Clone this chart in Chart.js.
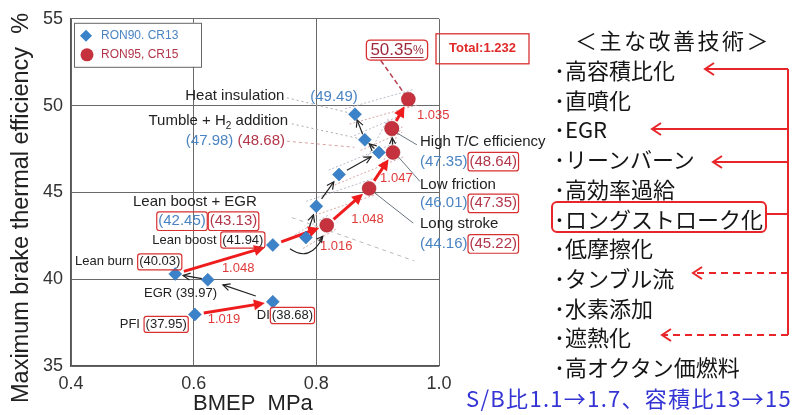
<!DOCTYPE html>
<html>
<head>
<meta charset="utf-8">
<script src="https://cdn.jsdelivr.net/npm/chart.js@4.4.0/dist/chart.umd.min.js"></script>
<style>
body { margin: 0; background: #fff; }
#wrap { position: relative; width: 803px; height: 415px; overflow: hidden; }
#myChart { position: absolute; left: 0; top: 0; }
.jp { position: absolute; font-family: "Noto Sans CJK JP"; font-size: 22px; line-height: 22px; color: #151515; white-space: nowrap; }
#side-lines { position: absolute; left: 0; top: 0; }
</style>
</head>
<body>
<div id="wrap">
<canvas id="myChart" width="803" height="415"></canvas>
<svg id="side-lines" width="803" height="415"></svg>
<div id="side"></div>
</div>
<script>
// values
var bmepBlue = [0.602, 0.729, 0.623, 0.570, 0.729, 0.783, 0.800, 0.837, 0.902, 0.879, 0.863];
var effBlue = [37.97, 38.70, 39.97, 40.30, 41.97, 42.40, 44.20, 46.03, 47.30, 48.03, 49.50];
var bmepRed = [0.817, 0.886, 0.925, 0.923, 0.923, 0.950];
var effRed = [43.11, 45.23, 47.30, 48.66, 48.70, 50.37];

var stepNames = ['PFI', 'DI', 'EGR', 'Lean burn', 'Lean boost', 'Lean boost + EGR', 'Long stroke',
    'Low friction', 'High T/C efficiency', 'Tumble + H', 'Heat insulation'];
var valBlue = ['37.95', '38.68', '39.97', '40.03', '41.94', '42.45', '44.16', '46.01', '47.35', '47.98', '49.49'];
var valRed = ['43.13', '45.22', '47.35', '48.64', '48.68', '50.35'];
var gains = ['1.019', '1.048', '1.016', '1.048', '1.047', '1.035'];
var totalGain = 'Total:1.232';
var seriesNames = ['RON90. CR13', 'RON95, CR15'];

var xTicks = [0.4, 0.6, 0.8, 1.0];
var yTicks = [35, 40, 45, 50, 55];

var techTitle = '＜主な改善技術＞';
var techList = ['高容積比化', '直噴化', 'EGR', 'リーンバーン', '高効率過給', 'ロングストローク化',
    '低摩擦化', 'タンブル流', '水素添加', '遮熱化', '高オクタン価燃料'];
var techNote = 'S/B比1.1→1.7、容積比13→15';

var BLUE = '#3b82c9', RED = '#c5313c', TXT_BLUE = '#4a84c2', TXT_RED = '#b2364a', BOX = '#d83030', ARROW_RED = '#ee1c1c';
var FONT = '"Liberation Sans", Arial, sans-serif';

var blueData = bmepBlue.map(function (v, i) { return { x: v, y: effBlue[i] }; });
var redData = bmepRed.map(function (v, i) { return { x: v, y: effRed[i] }; });

function font(size, bold) { return (bold ? 'bold ' : '') + size + 'px ' + FONT; }

function drawArrow(ctx, a, b, s1, s2, color, width, head, filled) {
    var dx = b.x - a.x, dy = b.y - a.y, len = Math.sqrt(dx * dx + dy * dy);
    var ux = dx / len, uy = dy / len;
    var x1 = a.x + ux * s1, y1 = a.y + uy * s1, x2 = b.x - ux * s2, y2 = b.y - uy * s2;
    ctx.save();
    ctx.strokeStyle = color; ctx.fillStyle = color; ctx.lineWidth = width;
    ctx.beginPath();
    ctx.moveTo(x1, y1);
    ctx.lineTo(x2 - ux * (filled ? head * 0.6 : 0), y2 - uy * (filled ? head * 0.6 : 0));
    ctx.stroke();
    var hx = x2 - ux * head, hy = y2 - uy * head, w = head * 0.5;
    ctx.beginPath();
    ctx.moveTo(hx - uy * w, hy + ux * w);
    ctx.lineTo(x2, y2);
    ctx.lineTo(hx + uy * w, hy - ux * w);
    if (filled) { ctx.closePath(); ctx.fill(); } else { ctx.stroke(); }
    ctx.restore();
}

function dashLine(ctx, a, b, color, dash, width) {
    ctx.save();
    ctx.strokeStyle = color; ctx.lineWidth = width || 1; ctx.setLineDash(dash);
    ctx.beginPath(); ctx.moveTo(a.x, a.y); ctx.lineTo(b.x, b.y); ctx.stroke();
    ctx.restore();
}

function roundRect(ctx, x, y, w, h, r) {
    ctx.beginPath();
    ctx.moveTo(x + r, y); ctx.lineTo(x + w - r, y); ctx.quadraticCurveTo(x + w, y, x + w, y + r);
    ctx.lineTo(x + w, y + h - r); ctx.quadraticCurveTo(x + w, y + h, x + w - r, y + h);
    ctx.lineTo(x + r, y + h); ctx.quadraticCurveTo(x, y + h, x, y + h - r);
    ctx.lineTo(x, y + r); ctx.quadraticCurveTo(x, y, x + r, y); ctx.closePath();
}

// parts: [text, color, boxed]
function drawParts(ctx, parts, x, y, align, size) {
    ctx.save();
    ctx.font = font(size);
    ctx.textBaseline = 'middle';
    ctx.textAlign = 'left';
    var total = 0;
    parts.forEach(function (p) { total += ctx.measureText(p[0]).width + (p[2] ? 4 : 0); });
    var cx = align === 'right' ? x - total : (align === 'center' ? x - total / 2 : x);
    parts.forEach(function (p) {
        var w = ctx.measureText(p[0]).width;
        if (p[2]) {
            ctx.strokeStyle = BOX; ctx.lineWidth = 1.2;
            roundRect(ctx, cx + 0.5, y - size * 0.62, w + 3, size * 1.24, 2.5);
            ctx.stroke();
            cx += 2;
        }
        ctx.fillStyle = p[1];
        ctx.fillText(p[0], cx, y);
        cx += w + (p[2] ? 2 : 0);
    });
    ctx.restore();
}

var annotate = {
    id: 'annotate',
    beforeDatasetsDraw: function (chart) {
        var ctx = chart.ctx, sx = chart.scales.x, sy = chart.scales.y;
        var P = function (x, y) { return { x: sx.getPixelForValue(x), y: sy.getPixelForValue(y) }; };
        var bp = function (i) { return P(bmepBlue[i], effBlue[i]); };
        var rp = function (i) { return P(bmepRed[i], effRed[i]); };

        // dotted outlines around each blue/red pair
        [[5, 0], [6, 1], [7, 2], [8, 3], [9, 4], [10, 5]].forEach(function (pr) {
            var a = bp(pr[0]), b = rp(pr[1]);
            var dx = b.x - a.x, dy = b.y - a.y, l = Math.sqrt(dx * dx + dy * dy);
            var nx = -dy / l * 8, ny = dx / l * 8, ux = dx / l * 8, uy = dy / l * 8;
            dashLine(ctx, { x: a.x + nx - ux, y: a.y + ny - uy }, { x: b.x + nx + ux, y: b.y + ny + uy }, '#d9a8a8', [2, 2]);
            dashLine(ctx, { x: a.x - nx - ux, y: a.y - ny - uy }, { x: b.x - nx + ux, y: b.y - ny + uy }, '#b8bcc8', [2, 2]);
        });

        // label leader lines
        dashLine(ctx, P(0.752, 50.45), bp(10), '#aaaaaa', [2, 3]);
        dashLine(ctx, P(0.760, 48.95), bp(9), '#aaaaaa', [2, 3]);
        dashLine(ctx, P(0.752, 47.95), P(0.862, 47.6), '#d8a0a0', [3, 3]);
        dashLine(ctx, P(0.760, 43.55), P(0.960, 41.05), '#bbbbbb', [4, 4]);
        dashLine(ctx, P(0.905, 52.6), rp(5), '#b84050', [5, 3], 1.5);
        [[P(0.964, 47.74), rp(3)], [P(0.969, 45.63), rp(2)], [P(0.958, 43.23), rp(1)]].forEach(function (l) {
            ctx.save(); ctx.strokeStyle = '#6b7580'; ctx.lineWidth = 1;
            ctx.beginPath(); ctx.moveTo(l[0].x, l[0].y); ctx.lineTo(l[1].x + 5, l[1].y + 4); ctx.stroke();
            ctx.restore();
        });

        // black arrows along the RON90 path
        [[1, 2, 18, 16], [2, 3, 6, 8], [5, 6, 8, 9], [6, 7, 9, 9], [7, 8, 9, 9], [8, 9, 6, 6], [9, 10, 6, 6]].forEach(function (s) {
            drawArrow(ctx, bp(s[0]), bp(s[1]), s[2], s[3], '#222', 1.2, 7, false);
        });
        drawArrow(ctx, rp(2), rp(3), 8, 9, '#222', 1.2, 6, false);
        // curved arrow under lean boost
        var c0 = P(0.757, 41.75), c1 = rp(0);
        ctx.save(); ctx.strokeStyle = '#222'; ctx.lineWidth = 1.2;
        ctx.beginPath(); ctx.moveTo(c0.x, c0.y);
        ctx.quadraticCurveTo(c0.x + 20, c0.y + 14, c1.x - 4, c1.y + 12); ctx.stroke();
        ctx.restore();
        drawArrow(ctx, { x: c1.x - 8, y: c1.y + 16 }, { x: c1.x - 4, y: c1.y + 11 }, 0, 0, '#222', 1.2, 6, false);

        // red gain arrows
        [[bp(0), bp(1)], [bp(3), bp(4)], [bp(4), rp(0)], [rp(0), rp(1)], [rp(1), rp(2)], [rp(3), rp(5)]].forEach(function (s) {
            drawArrow(ctx, s[0], s[1], 9, 8, ARROW_RED, 3, 11, true);
        });
    },
    afterDraw: function (chart) {
        var ctx = chart.ctx, sx = chart.scales.x, sy = chart.scales.y, area = chart.chartArea;
        var P = function (x, y) { return { x: sx.getPixelForValue(x), y: sy.getPixelForValue(y) }; };
        var K = '#222';
        var lab = function (parts, x, y, align, size) { var p = P(x, y); drawParts(ctx, parts, p.x, p.y, align, size); };

        lab([[stepNames[10], K]], 0.748, 50.54, 'right', 15);
        lab([['(' + valBlue[10] + ')', TXT_BLUE]], 0.790, 50.49, 'left', 15);
        // Tumble + H2 addition with subscript
        var tp = P(0.754, 49.11);
        ctx.save(); ctx.font = font(15); ctx.textBaseline = 'middle'; ctx.fillStyle = K;
        var w1 = ctx.measureText(stepNames[9]).width, w3 = ctx.measureText(' addition').width;
        ctx.font = font(10); var w2 = ctx.measureText('2').width;
        var tx = tp.x - w1 - w2 - w3;
        ctx.font = font(15); ctx.fillText(stepNames[9], tx, tp.y);
        ctx.font = font(10); ctx.fillText('2', tx + w1, tp.y + 5);
        ctx.font = font(15); ctx.fillText(' addition', tx + w1 + w2, tp.y);
        ctx.restore();
        lab([['(' + valBlue[9] + ')', TXT_BLUE], [' ', K], ['(' + valRed[4] + ')', TXT_RED]], 0.749, 47.97, 'right', 15);
        lab([[stepNames[8], K]], 0.969, 47.91, 'left', 15);
        lab([['(' + valBlue[8] + ')', TXT_BLUE], ['(' + valRed[3] + ')', TXT_RED, true]], 0.969, 46.77, 'left', 15);
        lab([[stepNames[7], K]], 0.969, 45.46, 'left', 15);
        lab([['(' + valBlue[7] + ')', TXT_BLUE], ['(' + valRed[2] + ')', TXT_RED, true]], 0.969, 44.37, 'left', 15);
        lab([[stepNames[6], K]], 0.969, 43.17, 'left', 15);
        lab([['(' + valBlue[6] + ')', TXT_BLUE], ['(' + valRed[1] + ')', TXT_RED, true]], 0.969, 42.03, 'left', 15);
        lab([[stepNames[5], K]], 0.602, 44.43, 'center', 15);
        lab([['(' + valBlue[5] + ')', TXT_BLUE, true], ['(' + valRed[0] + ')', TXT_RED, true]], 0.623, 43.34, 'center', 15);
        lab([[stepNames[4] + ' ', K], ['(' + valBlue[4] + ')', K, true]], 0.717, 42.26, 'right', 13);
        lab([[stepNames[3] + ' ', K], ['(' + valBlue[3] + ')', K, true]], 0.4065, 41.0, 'left', 13);
        lab([[stepNames[2] + ' (' + valBlue[2] + ')', K]], 0.519, 39.17, 'left', 13);
        lab([[stepNames[0] + ' ', K], ['(' + valBlue[0] + ')', K, true]], 0.592, 37.40, 'right', 13);
        lab([[stepNames[1], K], ['(' + valBlue[1] + ')', K, true]], 0.703, 37.91, 'left', 13);

        var gainPos = [[0.623, 37.69], [0.646, 40.60], [0.806, 41.86], [0.857, 43.46], [0.904, 45.80], [0.964, 49.46]];
        gains.forEach(function (g, i) { lab([[g, '#e03a3a']], gainPos[i][0], gainPos[i][1], 'left', 13); });

        // final efficiency box
        var fp = P(0.9315, 53.2);
        ctx.save();
        ctx.font = font(17);
        var fw = ctx.measureText(valRed[5]).width;
        ctx.font = font(12);
        var pw = ctx.measureText('%').width;
        var bw = fw + pw + 8;
        ctx.strokeStyle = BOX; ctx.lineWidth = 1.3;
        roundRect(ctx, fp.x - bw / 2, fp.y - 10, bw, 20, 4); ctx.stroke();
        ctx.fillStyle = '#9c2a3c'; ctx.textBaseline = 'middle';
        ctx.font = font(17); ctx.fillText(valRed[5], fp.x - bw / 2 + 4, fp.y);
        ctx.font = font(12); ctx.fillText('%', fp.x - bw / 2 + 4 + fw, fp.y + 1);
        ctx.fillRect(fp.x - bw / 2 + 4, fp.y + 7, fw + pw, 1);
        // total box
        ctx.strokeStyle = BOX; ctx.lineWidth = 1.3;
        ctx.strokeRect(area.right - 3, area.top + 15, 93, 30);
        ctx.fillStyle = '#e02a2a'; ctx.font = font(13, true); ctx.textAlign = 'center';
        ctx.fillText(totalGain, area.right - 3 + 46.5, area.top + 30);
        ctx.restore();

        // legend
        ctx.save();
        var lx = area.left + 3, ly = area.top + 4;
        ctx.fillStyle = '#fff'; ctx.fillRect(lx, ly, 127, 44);
        ctx.strokeStyle = '#666'; ctx.lineWidth = 1; ctx.strokeRect(lx + 0.5, ly + 0.5, 127, 44);
        ctx.fillStyle = BLUE; ctx.beginPath();
        ctx.moveTo(lx + 12, ly + 7); ctx.lineTo(lx + 18, ly + 13); ctx.lineTo(lx + 12, ly + 19); ctx.lineTo(lx + 6, ly + 13); ctx.closePath(); ctx.fill();
        ctx.fillStyle = RED; ctx.beginPath(); ctx.arc(lx + 13, ly + 32, 6.5, 0, Math.PI * 2); ctx.fill();
        ctx.font = font(12); ctx.textBaseline = 'middle';
        ctx.fillStyle = TXT_BLUE; ctx.fillText(seriesNames[0], lx + 27, ly + 13);
        ctx.fillStyle = TXT_RED; ctx.fillText(seriesNames[1], lx + 27, ly + 32);
        ctx.restore();

        // axis titles
        ctx.save();
        ctx.fillStyle = '#222'; ctx.textBaseline = 'middle';
        ctx.font = font(22);
        ctx.fillText('BMEP  MPa', 193, 404);
        ctx.translate(22, 403); ctx.rotate(-Math.PI / 2);
        ctx.font = font(23.5);
        ctx.fillText('Maximum brake thermal efficiency  %', 0, 0);
        ctx.restore();
    }
};

new Chart('myChart', {
    type: 'scatter',
    data: {
        datasets: [{
            label: seriesNames[0],
            data: blueData,
            pointStyle: 'rectRot',
            pointRadius: 6.5,
            backgroundColor: BLUE,
            borderColor: '#2f6fb0',
            borderWidth: 0.5
        }, {
            label: seriesNames[1],
            data: redData,
            pointStyle: 'circle',
            pointRadius: 7,
            backgroundColor: RED,
            borderColor: '#a82a33',
            borderWidth: 0.5
        }]
    },
    options: {
        responsive: false,
        animation: false,
        events: [],
        layout: { padding: { top: 16, right: 364, left: 0, bottom: 0 } },
        plugins: { legend: { display: false }, tooltip: { enabled: false } },
        scales: {
            x: {
                min: 0.4, max: 1.0,
                afterBuildTicks: function (axis) { axis.ticks = xTicks.map(function (v) { return { value: v }; }); },
                afterFit: function (axis) { axis.height = 49; },
                ticks: { color: '#333', font: { size: 18, family: FONT }, padding: 7, callback: function (v) { return v.toFixed(1); } },
                grid: { color: '#6a6a6a', lineWidth: 1, drawTicks: false },
                border: { color: '#555', width: 1.3 }
            },
            y: {
                min: 35, max: 55,
                afterBuildTicks: function (axis) { axis.ticks = yTicks.map(function (v) { return { value: v }; }); },
                afterFit: function (axis) { axis.width = 71; },
                ticks: { color: '#333', font: { size: 18, family: FONT }, padding: 8 },
                grid: { color: '#6a6a6a', lineWidth: 1, drawTicks: false },
                border: { color: '#555', width: 1.3 }
            }
        }
    },
    plugins: [annotate]
});

// right-hand list of techniques
var side = document.getElementById('side');
function jpText(text, left, cy, style) {
    var d = document.createElement('div');
    d.className = 'jp';
    d.textContent = text;
    d.style.left = left + 'px';
    d.style.top = (cy - 11) + 'px';
    if (style) { for (var k in style) d.style[k] = style[k]; }
    side.appendChild(d);
    return d;
}
jpText(techTitle, 575, 39, { letterSpacing: '2.5px' });
for (var i = 0; i < techList.length; i++) {
    jpText('･' + techList[i], 554, 69 + i * 29.7);
}
jpText(techNote, 466, 397, { color: '#3434d4', fontSize: '22px', letterSpacing: '1.3px' });

var svg = document.getElementById('side-lines');
var ns = 'http://www.w3.org/2000/svg';
function svgEl(tag, attrs) {
    var e = document.createElementNS(ns, tag);
    for (var k in attrs) e.setAttribute(k, attrs[k]);
    svg.appendChild(e);
    return e;
}
var LR = '#e8262a';
svgEl('rect', { x: 552, y: 202, width: 214, height: 30, rx: 5, fill: 'none', stroke: LR, 'stroke-width': 2 });
svgEl('line', { x1: 788, y1: 69, x2: 788, y2: 335, stroke: LR, 'stroke-width': 2 });
svgEl('line', { x1: 766, y1: 214, x2: 788, y2: 214, stroke: LR, 'stroke-width': 2 });
[[69, 705, false], [129, 652, false], [162, 713, false], [273, 693, true], [335, 662, true]].forEach(function (a) {
    var at = { x1: 788, y1: a[0], x2: a[1] + 1, y2: a[0], stroke: LR, 'stroke-width': 2 };
    if (a[2]) at['stroke-dasharray'] = '7,5';
    svgEl('line', at);
    svgEl('polyline', { points: (a[1] + 9) + ',' + (a[0] - 6) + ' ' + a[1] + ',' + a[0] + ' ' + (a[1] + 9) + ',' + (a[0] + 6), fill: 'none', stroke: LR, 'stroke-width': 2 });
});
</script>
</body>
</html>
